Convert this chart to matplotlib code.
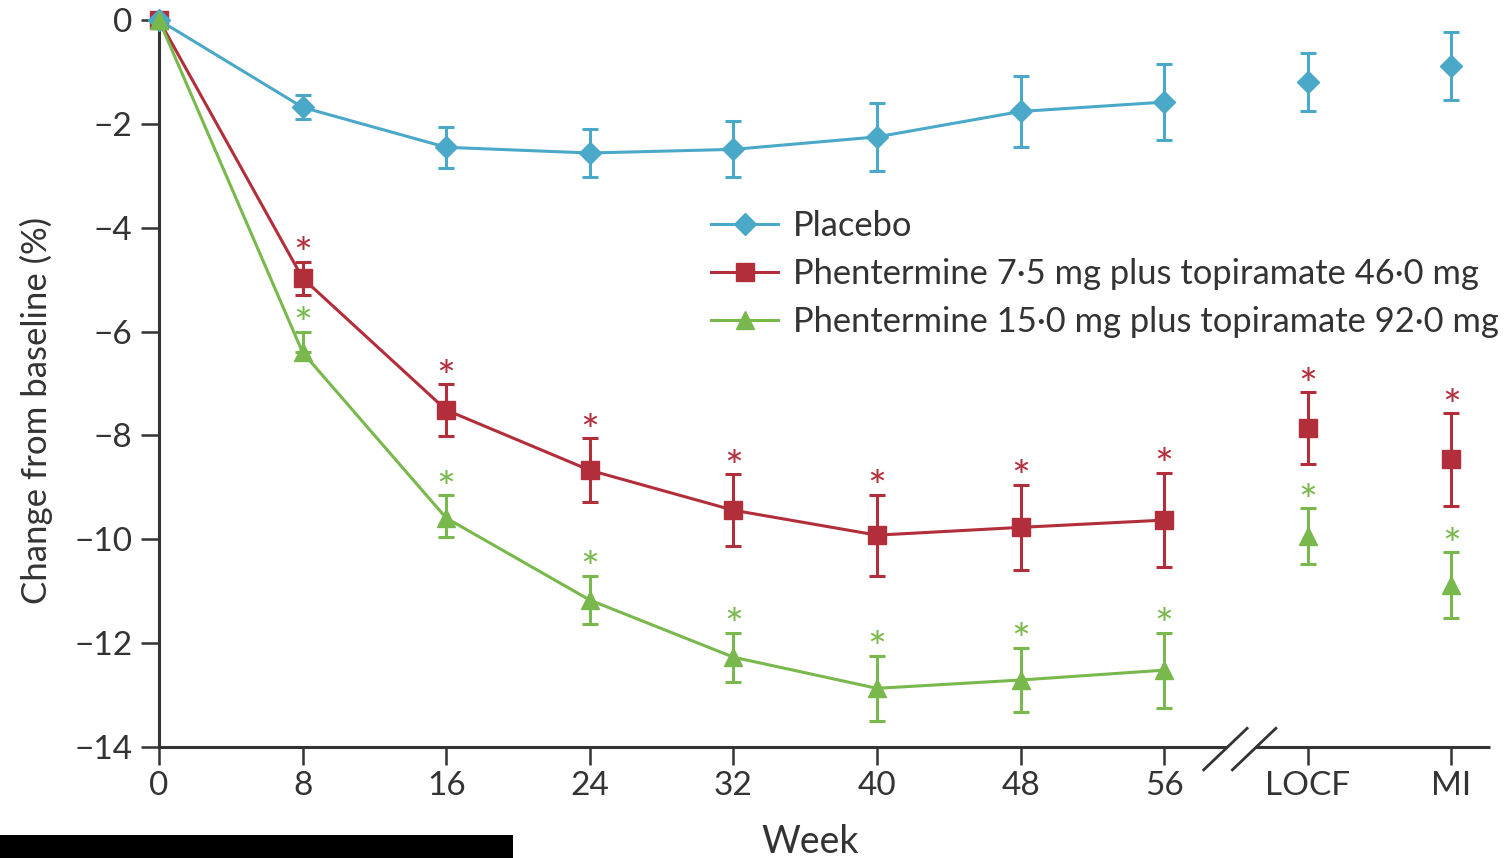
import matplotlib
matplotlib.use("Agg")
import matplotlib.pyplot as plt
from matplotlib.patches import Rectangle

plt.rcParams['font.family'] = ['Lato', 'DejaVu Sans']

# Data (percent change from baseline)
weeks = [0, 8, 16, 24, 32, 40, 48, 56]
extra_pos = [64, 72]
tick_pos = weeks + extra_pos
tick_labels = ['0', '8', '16', '24', '32', '40', '48', '56', 'LOCF', 'MI']

placebo = [0, -1.68, -2.45, -2.56, -2.49, -2.25, -1.76, -1.58]
placebo_err = [0, 0.23, 0.39, 0.46, 0.54, 0.65, 0.69, 0.73]
placebo_extra = [-1.19, -0.88]
placebo_extra_err = [0.56, 0.66]

low = [0, -4.97, -7.51, -8.67, -9.44, -9.92, -9.77, -9.63]
low_err = [0, 0.32, 0.5, 0.62, 0.69, 0.78, 0.82, 0.91]
low_extra = [-7.86, -8.46]
low_extra_err = [0.69, 0.89]

high = [0, -6.40, -9.59, -11.17, -12.27, -12.87, -12.71, -12.52]
high_err_up = [0, 0.4, 0.44, 0.47, 0.47, 0.63, 0.62, 0.72]
high_err_down = [0, 0.0, 0.36, 0.47, 0.47, 0.63, 0.62, 0.72]
high_extra = [-9.94, -10.88]
high_extra_err = [0.54, 0.63]

blue = '#4aa8c8'
red = '#b12e3a'
green = '#78b84c'
dark = '#333333'

fig = plt.figure(figsize=(15.09, 8.58), dpi=100)
ax = fig.add_axes([159/1509, 1 - 747/858, (1490-159)/1509, (747-18)/858])

lw = 2.2
ebkw = dict(fmt='none', elinewidth=2.2, capsize=6, capthick=2.2, zorder=2)

# red series
ax.errorbar(weeks[1:], low[1:], yerr=low_err[1:], ecolor=red, **ebkw)
ax.errorbar(extra_pos, low_extra, yerr=low_extra_err, ecolor=red, **ebkw)
h_low, = ax.plot(weeks, low, color=red, lw=lw, marker='s', ms=12.5, zorder=3, clip_on=False,
                 label='Phentermine 7\u00b75 mg plus topiramate 46\u00b70 mg')
ax.plot(extra_pos, low_extra, color=red, ls='none', marker='s', ms=12.5, zorder=3)

# placebo
ax.errorbar(weeks[1:], placebo[1:], yerr=placebo_err[1:], ecolor=blue, **ebkw)
ax.errorbar(extra_pos, placebo_extra, yerr=placebo_extra_err, ecolor=blue, **ebkw)
h_pl, = ax.plot(weeks, placebo, color=blue, lw=lw, marker='D', ms=11.5, zorder=3, clip_on=False,
                label='Placebo')
ax.plot(extra_pos, placebo_extra, color=blue, ls='none', marker='D', ms=11.5, zorder=3)

# high dose
ax.errorbar(weeks[1:], high[1:], yerr=[high_err_down[1:], high_err_up[1:]], ecolor=green, **ebkw)
ax.errorbar(extra_pos, high_extra, yerr=high_extra_err, ecolor=green, **ebkw)
h_high, = ax.plot(weeks, high, color=green, lw=lw, marker='^', ms=12.5, zorder=3, clip_on=False,
                  label='Phentermine 15\u00b70 mg plus topiramate 92\u00b70 mg')
ax.plot(extra_pos, high_extra, color=green, ls='none', marker='^', ms=12.5, zorder=3)

# significance stars
for xs, ys, es, c in [(weeks[1:] + extra_pos, low[1:] + low_extra, low_err[1:] + low_extra_err, red),
                      (weeks[1:] + extra_pos, high[1:] + high_extra, high_err_up[1:] + high_extra_err, green)]:
    for x, y, e in zip(xs, ys, es):
        ax.annotate('*', xy=(x, y + e), xytext=(0, -5.5), textcoords='offset points',
                    ha='center', va='baseline', fontsize=32, color=c)

ax.set_xlim(0, 74.15)
ax.set_ylim(-14, 0.04)
ax.set_yticks(range(0, -15, -2))
ax.set_xticks(tick_pos)
ax.set_xticklabels(tick_labels)

for s in ['top', 'right']:
    ax.spines[s].set_visible(False)
ax.spines['left'].set_linewidth(2.2)
ax.spines['left'].set_color(dark)
ax.spines['bottom'].set_linewidth(2.2)
ax.spines['bottom'].set_color(dark)
ax.spines['bottom'].set_bounds(0, 59.45)
# rest of the axis after the break
ax.plot([61.05, 74.15], [-14, -14], color=dark, lw=2.2, clip_on=False, solid_capstyle='butt')
# break marks
for bx in [59.45, 61.05]:
    ax.plot([bx - 1.25, bx + 1.17], [-14 - 0.44, -14 + 0.36], color=dark, lw=2.0, clip_on=False)

ax.tick_params(axis='both', colors=dark, length=13, width=1.8, labelsize=24, labelcolor=dark)
ax.tick_params(axis='y', pad=6)
ax.tick_params(axis='x', pad=4)

ax.set_ylabel('Change from baseline (%)', fontsize=25, color=dark)
ax.yaxis.set_label_coords(-0.08, 0.461)
ax.set_xlabel('Week', fontsize=27, color=dark)
ax.xaxis.set_label_coords(0.489, -0.106)

leg = ax.legend(handles=[h_pl, h_low, h_high], loc='center left', bbox_to_anchor=(0.4147, 0.6489),
                frameon=False, fontsize=24.8, handlelength=1.95, handletextpad=0.42,
                labelspacing=0.46, borderpad=0, borderaxespad=0)
for t in leg.get_texts():
    t.set_color(dark)

fig.patches.append(Rectangle((0, 0), 513/1509, 23/858, transform=fig.transFigure,
                             facecolor='black', edgecolor='none'))

fig.savefig('out.png', dpi=100)
